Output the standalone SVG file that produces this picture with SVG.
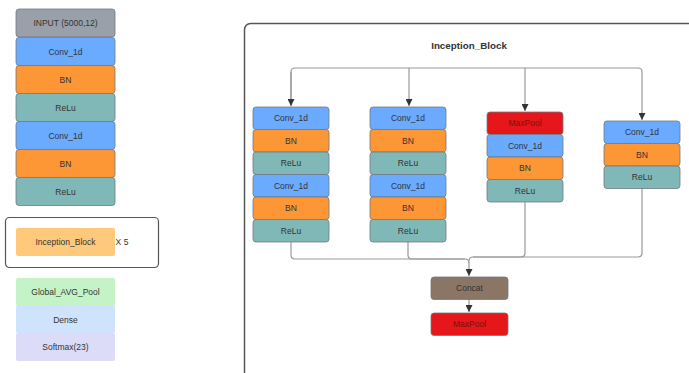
<svg xmlns="http://www.w3.org/2000/svg" width="689" height="373" viewBox="0 0 689 373">
<defs>
<marker id="ah" viewBox="0 0 10 10" refX="10" refY="5" markerWidth="7" markerHeight="7" markerUnits="userSpaceOnUse" orient="auto">
<path d="M0,0 L10,5 L0,10 z" fill="#333"/>
</marker>
<style>
text{font-family:"Liberation Sans",Arial,sans-serif;font-size:8.5px;fill:#333;text-anchor:middle;dominant-baseline:central}
.b{stroke:#6f7a86;stroke-width:0.8}
.gray{fill:#9aa0aa}
.blue{fill:#6aabff}
.orange{fill:#fd9634}
.teal{fill:#7fb8b6}
.red{fill:#e5171a}
.brown{fill:#8b7565}
.lo{fill:#ffc97b}
.green{fill:#c5f3c8}
.lb{fill:#d0e3fd}
.lav{fill:#dcdcf8}
.c{fill:none;stroke:#999;stroke-width:1.2}
.rt{fill:#7a1010}
</style>
</defs>
<rect width="689" height="373" fill="#fff"/>

<!-- left stack -->
<g id="l-input"><rect class="b gray" x="16" y="9" width="99" height="28" rx="3"/><text x="65.5" y="23">INPUT (5000,12)</text></g>
<g id="l-conv1"><rect class="b blue" x="16" y="37.5" width="99" height="28" rx="3"/><text x="65.5" y="51.5">Conv_1d</text></g>
<g id="l-bn1"><rect class="b orange" x="16" y="65.5" width="99" height="28" rx="3"/><text x="65.5" y="79.5">BN</text></g>
<g id="l-relu1"><rect class="b teal" x="16" y="93.5" width="99" height="28" rx="3"/><text x="65.5" y="107.5">ReLu</text></g>
<g id="l-conv2"><rect class="b blue" x="16" y="121.5" width="99" height="28" rx="3"/><text x="65.5" y="135.5">Conv_1d</text></g>
<g id="l-bn2"><rect class="b orange" x="16" y="149.5" width="99" height="28" rx="3"/><text x="65.5" y="163.5">BN</text></g>
<g id="l-relu2"><rect class="b teal" x="16" y="177.5" width="99" height="28" rx="3"/><text x="65.5" y="191.5">ReLu</text></g>

<g id="l-incep-group"><rect x="5.5" y="217.5" width="153" height="50" rx="4" fill="#fff" stroke="#555" stroke-width="1.2"/></g>
<g id="l-incep"><rect class="lo" x="16" y="228" width="99" height="28" rx="2"/><text x="65.5" y="242">Inception_Block</text></g>
<g id="l-x5"><text x="122" y="242">X 5</text></g>

<g id="l-gap"><rect class="green" x="16" y="278" width="99" height="28" rx="2"/><text x="65.5" y="292">Global_AVG_Pool</text></g>
<g id="l-dense"><rect class="lb" x="16" y="305.5" width="99" height="28" rx="2"/><text x="65.5" y="319.5">Dense</text></g>
<g id="l-soft"><rect class="lav" x="16" y="333" width="99" height="28" rx="2"/><text x="65.5" y="347">Softmax(23)</text></g>

<!-- inception block frame -->
<g id="frame"><rect x="244.5" y="23.5" width="460" height="360" rx="6" fill="#fff" stroke="#555" stroke-width="1.5"/>
<text x="469" y="45" style="font-weight:bold;font-size:9.8px">Inception_Block</text></g>

<!-- connectors -->
<g id="connectors">
<path class="c" d="M291,106 L291,72 Q291,68 295,68 L638,68 Q642,68 642,72 L642,120" marker-end="url(#ah)"/>
<path class="c" d="M291,72 L291,106" marker-end="url(#ah)"/>
<path class="c" d="M409,68 L409,106" marker-end="url(#ah)"/>
<path class="c" d="M525,68 L525,111" marker-end="url(#ah)"/>
<path class="c" d="M291,242 L291,255 Q291,259 295,259 L465,259 Q469,259 469,263"/>
<path class="c" d="M408,242 L408,255 Q408,259 412,259 L465,259"/>
<path class="c" d="M525,202 L525,253 Q525,257 521,257 L473,257 Q469,257 469,261"/>
<path class="c" d="M642,188 L642,253 Q642,257 638,257 L473,257"/>
<path class="c" d="M469,262 L469,276" marker-end="url(#ah)"/>
<path class="c" d="M469,299 L469,312" marker-end="url(#ah)"/>
</g>

<!-- column 1 -->
<g id="c1-conv1"><rect class="b blue" x="253" y="107" width="76" height="22.5" rx="3"/><text x="291" y="118.2">Conv_1d</text></g>
<g id="c1-bn1"><rect class="b orange" x="253" y="129.5" width="76" height="22.5" rx="3"/><text x="291" y="140.7">BN</text></g>
<g id="c1-relu1"><rect class="b teal" x="253" y="152" width="76" height="22.5" rx="3"/><text x="291" y="163.2">ReLu</text></g>
<g id="c1-conv2"><rect class="b blue" x="253" y="174.5" width="76" height="22.5" rx="3"/><text x="291" y="185.7">Conv_1d</text></g>
<g id="c1-bn2"><rect class="b orange" x="253" y="197" width="76" height="22.5" rx="3"/><text x="291" y="208.2">BN</text></g>
<g id="c1-relu2"><rect class="b teal" x="253" y="219.5" width="76" height="22.5" rx="3"/><text x="291" y="230.7">ReLu</text></g>

<!-- column 2 -->
<g id="c2-conv1"><rect class="b blue" x="370" y="107" width="76" height="22.5" rx="3"/><text x="408" y="118.2">Conv_1d</text></g>
<g id="c2-bn1"><rect class="b orange" x="370" y="129.5" width="76" height="22.5" rx="3"/><text x="408" y="140.7">BN</text></g>
<g id="c2-relu1"><rect class="b teal" x="370" y="152" width="76" height="22.5" rx="3"/><text x="408" y="163.2">ReLu</text></g>
<g id="c2-conv2"><rect class="b blue" x="370" y="174.5" width="76" height="22.5" rx="3"/><text x="408" y="185.7">Conv_1d</text></g>
<g id="c2-bn2"><rect class="b orange" x="370" y="197" width="76" height="22.5" rx="3"/><text x="408" y="208.2">BN</text></g>
<g id="c2-relu2"><rect class="b teal" x="370" y="219.5" width="76" height="22.5" rx="3"/><text x="408" y="230.7">ReLu</text></g>

<!-- column 3 -->
<g id="c3-pool"><rect class="b red" x="487" y="112" width="76" height="22.5" rx="3"/><text class="rt" x="525" y="123.2">MaxPool</text></g>
<g id="c3-conv"><rect class="b blue" x="487" y="134.5" width="76" height="22.5" rx="3"/><text x="525" y="145.7">Conv_1d</text></g>
<g id="c3-bn"><rect class="b orange" x="487" y="157" width="76" height="22.5" rx="3"/><text x="525" y="168.2">BN</text></g>
<g id="c3-relu"><rect class="b teal" x="487" y="179.5" width="76" height="22.5" rx="3"/><text x="525" y="190.7">ReLu</text></g>

<!-- column 4 -->
<g id="c4-conv"><rect class="b blue" x="604" y="121" width="76" height="22.5" rx="3"/><text x="642" y="132.2">Conv_1d</text></g>
<g id="c4-bn"><rect class="b orange" x="604" y="143.5" width="76" height="22.5" rx="3"/><text x="642" y="154.7">BN</text></g>
<g id="c4-relu"><rect class="b teal" x="604" y="166" width="76" height="22.5" rx="3"/><text x="642" y="177.2">ReLu</text></g>

<!-- concat / maxpool -->
<g id="concat"><rect class="b brown" x="431" y="277" width="77" height="22.5" rx="3"/><text x="469.5" y="288.2">Concat</text></g>
<g id="maxpool"><rect class="b red" x="431" y="313" width="77" height="22.5" rx="3"/><text class="rt" x="469.5" y="324.2">MaxPool</text></g>
</svg>
